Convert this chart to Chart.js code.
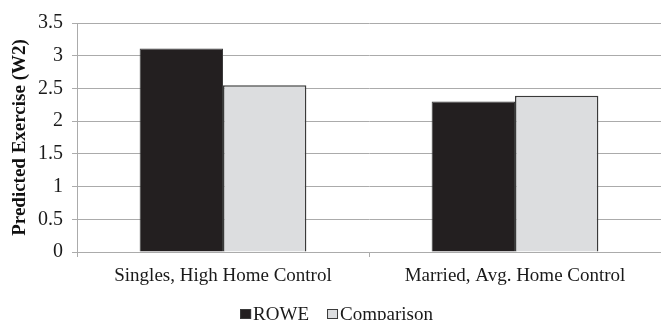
<!DOCTYPE html>
<html>
<head>
<meta charset="utf-8">
<script src="https://cdn.jsdelivr.net/npm/chart.js@4/dist/chart.umd.min.js"></script>
<style>
  html, body { margin: 0; padding: 0; background: #ffffff; }
  #wrap { width: 661px; height: 320px; }
</style>
</head>
<body>
<div id="wrap"><canvas id="c" width="661" height="320"></canvas></div>
<script>
const categories = ["Singles, High Home Control", "Married, Avg. Home Control"];
const seriesNames = ["ROWE", "Comparison"];
const roweValues = [3.11, 2.30];
const comparisonValues = [2.55, 2.39];
const yTitle = "Predicted Exercise (W2)";

const FONT = "'Liberation Serif', 'Times New Roman', serif";
const GRID = "#ababab";

// Legend drawn as small squares with tight spacing, centred under the chart
const squareLegend = {
  id: "squareLegend",
  afterDraw(chart) {
    const ctx = chart.ctx;
    const box = 11, gap = 2, spacing = 18;
    ctx.save();
    ctx.font = "19px " + FONT;
    ctx.textBaseline = "alphabetic";
    const items = chart.data.datasets.map(ds => ({
      ds, w: box + gap + ctx.measureText(ds.label).width
    }));
    const total = items.reduce((s, it) => s + it.w, 0) + spacing * (items.length - 1);
    let x = chart.width / 2 + 6 - total / 2;
    const boxTop = 309, baseline = 320;
    items.forEach(it => {
      ctx.fillStyle = it.ds.backgroundColor;
      ctx.fillRect(x, boxTop, box, box - 1);
      ctx.strokeStyle = "#3a3a3a";
      ctx.lineWidth = 1;
      ctx.strokeRect(x + 0.5, boxTop + 0.5, box - 1, box - 2);
      ctx.fillStyle = "#1a1a1a";
      ctx.fillText(it.ds.label, x + box + gap, baseline);
      x += it.w + spacing;
    });
    ctx.restore();
  }
};

new Chart(document.getElementById("c"), {
  type: "bar",
  data: {
    labels: categories,
    datasets: [
      {
        label: seriesNames[0],
        data: roweValues,
        backgroundColor: "#231f20",
        borderColor: "#3a3a3a",
        borderWidth: 1
      },
      {
        label: seriesNames[1],
        data: comparisonValues,
        backgroundColor: "#dcdddf",
        borderColor: "#3a3a3a",
        borderWidth: 1.5
      }
    ]
  },
  options: {
    responsive: false,
    animation: false,
    devicePixelRatio: 1,
    layout: { padding: { top: 23, left: 0, right: 0, bottom: 0 } },
    datasets: { bar: { categoryPercentage: 0.571, barPercentage: 1.0 } },
    plugins: {
      legend: { display: false },
      tooltip: { enabled: false }
    },
    scales: {
      x: {
        grid: {
          offset: true,
          drawOnChartArea: false,
          drawTicks: true,
          tickLength: 5,
          color: GRID
        },
        border: { color: GRID, width: 1 },
        ticks: {
          color: "#1a1a1a",
          font: { family: FONT, size: 19 },
          padding: 8,
          maxRotation: 0,
          autoSkip: false
        },
        afterFit(scale) { scale.height = 68; }
      },
      y: {
        min: 0,
        max: 3.5,
        ticks: {
          stepSize: 0.5,
          color: "#1a1a1a",
          font: { family: FONT, size: 20 },
          padding: 9,
          callback: v => String(v)
        },
        grid: {
          color: GRID,
          tickLength: 5,
          drawTicks: true
        },
        border: { color: GRID, width: 1 },
        title: {
          display: true,
          text: yTitle,
          color: "#111111",
          font: { family: FONT, size: 19, weight: "bold" },
          padding: { top: 9, bottom: 0 }
        },
        afterFit(scale) { scale.width = 77; }
      }
    }
  },
  plugins: [squareLegend]
});
</script>
</body>
</html>
